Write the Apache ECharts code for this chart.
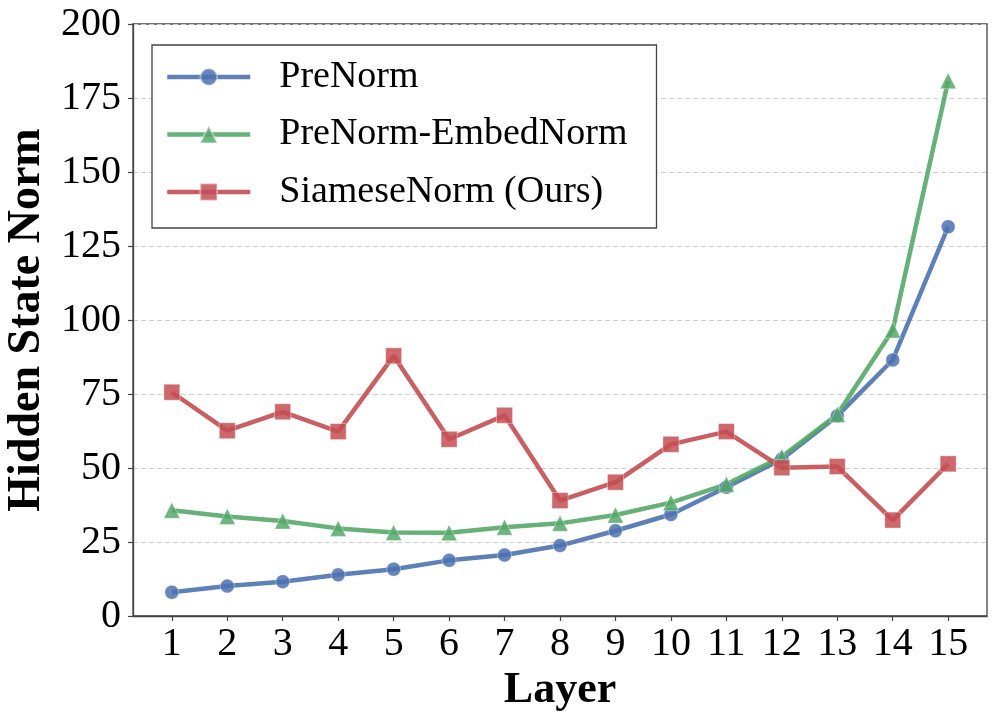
<!DOCTYPE html>
<html>
<head>
<meta charset="utf-8">
<script src="https://cdn.jsdelivr.net/npm/echarts@6/dist/echarts.min.js"></script>
<style>html,body{margin:0;padding:0;background:#fff;}#c{width:996px;height:721px;}</style>
</head>
<body>
<div id="c"></div>
<script>
const layers = [1,2,3,4,5,6,7,8,9,10,11,12,13,14,15];
const preNorm = [8.0,10.1,11.6,13.9,15.8,18.8,20.6,23.8,28.8,34.3,43.5,53.0,67.6,86.5,131.5];
const preNormEmbed = [35.7,33.6,32.1,29.6,28.2,28.1,30.0,31.3,34.1,38.3,44.5,53.8,68.1,96.6,180.8];
const siamese = [75.6,62.6,69.0,62.3,87.9,59.7,67.8,39.0,45.2,58.0,62.3,50.1,50.5,32.4,51.4];
const yTicks = [0,25,50,75,100,125,150,175,200];
const seriesNames = ['PreNorm','PreNorm-EmbedNorm','SiameseNorm (Ours)'];

const font = 'Liberation Serif, Times New Roman, serif';
const chart = echarts.init(document.getElementById('c'), null, {renderer:'canvas'});
function mk(name, vals, color, symbol, size){
  return {
    name, type:'line', data: layers.map((x,i)=>[x, vals[i]]),
    symbol, symbolSize:size, showSymbol:true,
    lineStyle:{color, width:4.5, opacity:0.9},
    itemStyle:{color, opacity:0.85, borderColor:'rgba(255,255,255,0.45)', borderWidth:1},
    emphasis:{disabled:true}, animation:false
  };
}
chart.setOption({
  animation:false,
  backgroundColor:'#fff',
  grid:{left:133, right:9, top:24, bottom:105, outerBoundsMode:'none', containLabel:false, show:true, borderColor:'#444', borderWidth:1.3, backgroundColor:'transparent'},
  legend:{
    orient:'vertical', left:152, top:45,
    data: seriesNames,
    itemWidth:83, itemHeight:21, itemGap:19.5,
    padding:[13,29,17,13],
    lineStyle:{width:4.5},
    borderColor:'#444', borderWidth:1.3, borderRadius:0, backgroundColor:'#fff',
    textStyle:{fontFamily:font, fontSize:38, color:'#000', lineHeight:38, padding:[0,0,0,24]}
  },
  xAxis:{
    type:'value', min:0.3, max:15.7,
    name:'Layer', nameLocation:'middle', nameGap:47,
    nameTextStyle:{fontFamily:font, fontSize:44, fontWeight:'bold', color:'#000'},
    axisLine:{show:true, lineStyle:{color:'#444', width:1.3}},
    axisTick:{show:true, length:5, inside:false, lineStyle:{color:'#444', width:1.2}, customValues:layers},
    axisLabel:{fontFamily:font, fontSize:40, color:'#000', margin:8, customValues:layers},
    splitLine:{show:false}
  },
  yAxis:{
    type:'value', min:0, max:200, interval:25,
    name:'Hidden State Norm', nameLocation:'middle', nameGap:82,
    nameTextStyle:{fontFamily:font, fontSize:46, fontWeight:'bold', color:'#000'},
    axisLine:{show:true, lineStyle:{color:'#444', width:1.3}},
    axisTick:{show:true, length:5, lineStyle:{color:'#444', width:1.2}},
    axisLabel:{fontFamily:font, fontSize:40, color:'#000', margin:12, customValues:yTicks},
    splitLine:{show:true, lineStyle:{color:'#d0d0d0', type:[5,3], width:1}}
  },
  series:[
    mk(seriesNames[0], preNorm, '#4C72B0', 'circle', 14),
    mk(seriesNames[1], preNormEmbed, '#55A868', 'triangle', 16),
    mk(seriesNames[2], siamese, '#C44E52', 'rect', 16)
  ]
});
</script>
</body>
</html>
